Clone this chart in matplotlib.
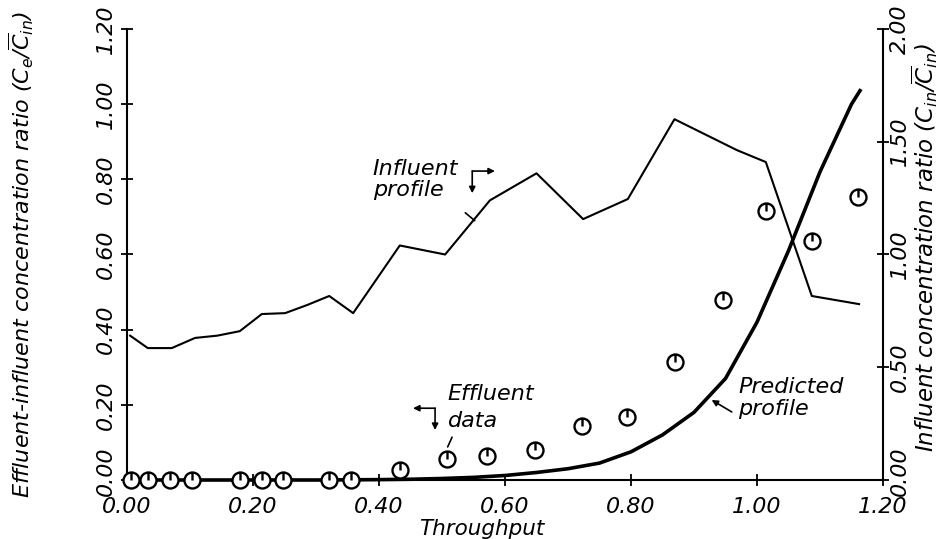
import numpy as np
import matplotlib
matplotlib.use("Agg")
import matplotlib.pyplot as plt
import matplotlib.transforms as mtransforms
from matplotlib.path import Path

plt.rcParams['font.family'] = ['DejaVu Sans']
plt.rcParams['font.style'] = 'italic'
plt.rcParams['mathtext.fontset'] = 'dejavusans'

# influent concentration ratio vs throughput (right axis)
infl_t = [0.005, 0.033, 0.071, 0.108, 0.143, 0.179, 0.214, 0.251, 0.286, 0.321, 0.359,
          0.433, 0.505, 0.576, 0.65, 0.724, 0.795, 0.869, 0.968, 1.014, 1.087, 1.162]
infl_c = [0.64, 0.585, 0.585, 0.63, 0.64, 0.66, 0.736, 0.74, 0.776, 0.816, 0.74,
          1.04, 1.0, 1.24, 1.36, 1.157, 1.246, 1.60, 1.463, 1.41, 0.816, 0.78]

# measured effluent / influent ratio (left axis)
eff_t = [0.006, 0.033, 0.068, 0.103, 0.179, 0.214, 0.248, 0.321, 0.356,
         0.433, 0.508, 0.571, 0.648, 0.722, 0.794, 0.870, 0.946, 1.014, 1.087, 1.160]
eff_c = [0, 0, 0, 0, 0, 0, 0, 0, 0,
         0.027, 0.056, 0.064, 0.08, 0.144, 0.168, 0.314, 0.479, 0.715, 0.636, 0.753]

# model prediction (left axis)
pred_t = [0.0, 0.10, 0.20, 0.30, 0.40, 0.45, 0.50, 0.55, 0.60, 0.65, 0.70, 0.75,
          0.80, 0.85, 0.90, 0.95, 1.00, 1.05, 1.10, 1.15, 1.165]
pred_c = [0, 0, 0, 0, 0.001, 0.002, 0.004, 0.007, 0.012, 0.02, 0.03, 0.045,
          0.075, 0.12, 0.18, 0.27, 0.42, 0.61, 0.82, 1.0, 1.04]

x_ticks = [0.0, 0.2, 0.4, 0.6, 0.8, 1.0, 1.2]
left_ticks = [0.0, 0.2, 0.4, 0.6, 0.8, 1.0, 1.2]
right_ticks = [0.0, 0.5, 1.0, 1.5, 2.0]

# open circle with a stroke from the centre up to the rim
circ = Path.unit_circle()
stem = Path([(0, 0), (0, 1)], [Path.MOVETO, Path.LINETO])
data_marker = Path.make_compound_path(circ, stem)

fig = plt.figure(figsize=(9.42, 5.39), dpi=100)
ax = fig.add_axes([127/942, 1 - 480/539, (883 - 127)/942, (480 - 29)/539])
ax2 = ax.twinx()

ax.plot(pred_t, pred_c, color='black', lw=2.6, solid_capstyle='butt', clip_on=False, zorder=3)
ax.plot(eff_t, eff_c, linestyle='none', marker=data_marker, ms=11.5, mfc='white',
        mec='black', mew=1.7, clip_on=False, zorder=4)
ax2.plot(infl_t, infl_c, color='black', lw=1.5, clip_on=False)

ax.set_xlim(0, 1.2)
ax.set_ylim(0, 1.2)
ax2.set_ylim(0, 2.0)

ax.set_xticks(x_ticks)
ax.set_xticklabels([f'{v:.2f}' for v in x_ticks])
ax.set_yticks(left_ticks)
ax.set_yticklabels([f'{v:.2f}' for v in left_ticks])
ax2.set_yticks(right_ticks)
ax2.set_yticklabels([f'{v:.2f}' for v in right_ticks])

for a in (ax, ax2):
    a.spines['top'].set_visible(False)
    a.patch.set_visible(False)
ax.spines['right'].set_visible(False)
ax2.spines['left'].set_visible(False)
ax2.spines['bottom'].set_visible(False)
for sp in list(ax.spines.values()) + list(ax2.spines.values()):
    sp.set_linewidth(1.5)

ax.tick_params(axis='both', direction='inout', length=8, width=1.3, labelsize=16)
ax.tick_params(axis='x', pad=8)
ax.tick_params(axis='y', labelrotation=90, pad=4)
ax2.tick_params(axis='y', direction='inout', length=8, width=1.3, labelsize=16,
                labelrotation=90, pad=1)
for lab in ax.get_yticklabels() + ax2.get_yticklabels():
    lab.set_va('center')

# lift the two bottom 0.00 labels clear of the throughput labels
lift = mtransforms.ScaledTranslation(0, 9/100, fig.dpi_scale_trans)
for lab in (ax.get_yticklabels()[0], ax2.get_yticklabels()[0]):
    lab.set_transform(lab.get_transform() + lift)

fig.text(21/942, 1 - 254/539,
         r'Effluent-influent concentration ratio ($\mathrm{C_e/\overline{C}_{in}}$)',
         rotation=90, ha='center', va='center', fontsize=16)
fig.text(925/942, 1 - 248/539,
         r'Influent concentration ratio ($\mathrm{C_{in}/\overline{C}_{in}}$)',
         rotation=90, ha='center', va='center', fontsize=16.5)
fig.text(482/942, 1 - 529/539, 'Throughput', ha='center', va='center', fontsize=15.5)

# annotations
arw = dict(arrowstyle='-|>', color='black', lw=1.2, mutation_scale=9, shrinkA=0, shrinkB=0)
ln = dict(arrowstyle='-', color='black', lw=1.2, shrinkA=0, shrinkB=0)

ax.text(0.39, 0.800, 'Influent\nprofile', fontsize=16, ha='left', va='center', linespacing=1.1)
ax.annotate('', xy=(0.584, 0.822), xytext=(0.548, 0.822), arrowprops=arw)
ax.annotate('', xy=(0.548, 0.763), xytext=(0.548, 0.822), arrowprops=arw)
ax.annotate('', xy=(0.552, 0.69), xytext=(0.537, 0.711), arrowprops=ln)

ax.text(0.508, 0.229, 'Effluent', fontsize=16, ha='left', va='center')
ax.text(0.510, 0.157, 'data', fontsize=16, ha='left', va='center')
ax.annotate('', xy=(0.454, 0.191), xytext=(0.489, 0.191), arrowprops=arw)
ax.annotate('', xy=(0.489, 0.133), xytext=(0.489, 0.191), arrowprops=arw)
ax.annotate('', xy=(0.509, 0.088), xytext=(0.516, 0.114), arrowprops=ln)

ax.text(0.97, 0.218, 'Predicted\nprofile', fontsize=16, ha='left', va='center', linespacing=1.1)
ax.annotate('', xy=(0.928, 0.213), xytext=(0.960, 0.181), arrowprops=arw)

fig.savefig('out.png', dpi=100)
